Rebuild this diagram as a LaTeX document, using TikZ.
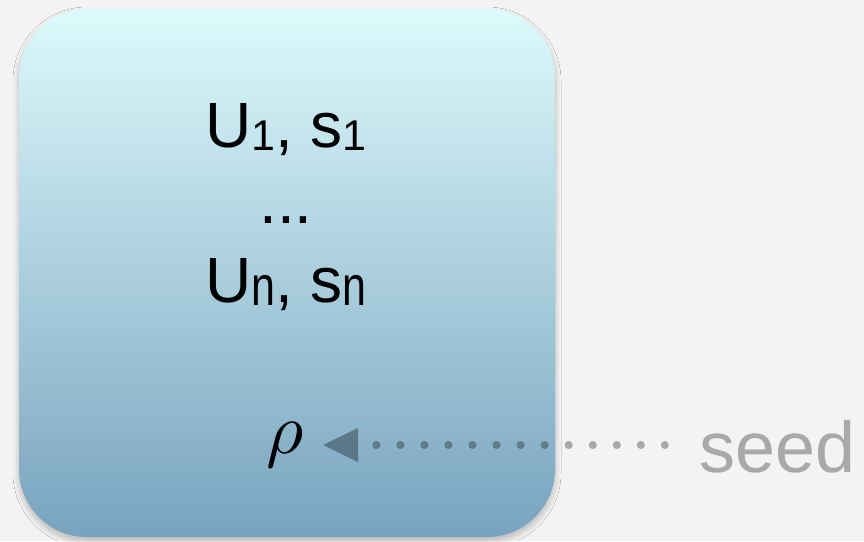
\documentclass[tikz,border=0pt]{standalone}
\usepackage{fontspec}
\setmainfont{Liberation Sans}
\usepackage{graphicx}
\usetikzlibrary{shadows.blur}
\definecolor{bgc}{RGB}{243,243,243}
\definecolor{boxtop}{RGB}{221,250,252}
\definecolor{boxbot}{RGB}{120,163,191}
\definecolor{seedgray}{RGB}{169,169,169}
\newcommand{\subsz}[1]{\raisebox{-3pt}{\fontsize{43}{43}\selectfont #1}}
\newcommand{\subn}{\raisebox{-3pt}{\fontsize{43}{43}\selectfont\scalebox{1}[1.3]{n}}}
\begin{document}
\begin{tikzpicture}[x=1pt,y=-1pt,
  bigtext/.style={inner sep=0pt, anchor=base, font=\fontsize{64}{64}\selectfont},
  dotline/.style={line width=7.5pt, line cap=round, dash pattern=on 0.6pt off 23.45pt, black, opacity=0.3},
  arrowfill/.style={fill=black, opacity=0.33},
  roundbox/.style={rounded corners=68pt, top color=boxtop, bottom color=boxbot,
    blur shadow={shadow xshift=0pt, shadow yshift=-4pt, shadow blur radius=6pt, shadow blur steps=10, shadow opacity=25}}]
\fill[bgc] (0,0) rectangle (864,541);
\useasboundingbox (0,0) rectangle (864,541);
\path[roundbox] (19,9) rectangle (555,537);
\node[bigtext] (l1) at (286,147) {U\subsz{1}, s\subsz{1}};
\node[bigtext] (dots) at (286,223) {...};
\node[bigtext] (l2) at (286,302) {U\subn, s\subn};
\node[inner sep=0pt, anchor=base] (rho) at (285,453) {\scalebox{7.2}{$\rho$}};
\node[inner sep=0pt, anchor=base west, text=seedgray, font=\fontsize{72}{72}\selectfont] (seed) at (699,472) {seed};
\coordinate (tip) at (323,445);
\coordinate (dotstart) at (376,445);
\coordinate (dotend) at (665,445);
\path[arrowfill] (tip) -- ++(35,-17) -- ++(0,34) -- cycle;
\draw[dotline] (dotstart) -- (dotend);
\end{tikzpicture}
\end{document}
